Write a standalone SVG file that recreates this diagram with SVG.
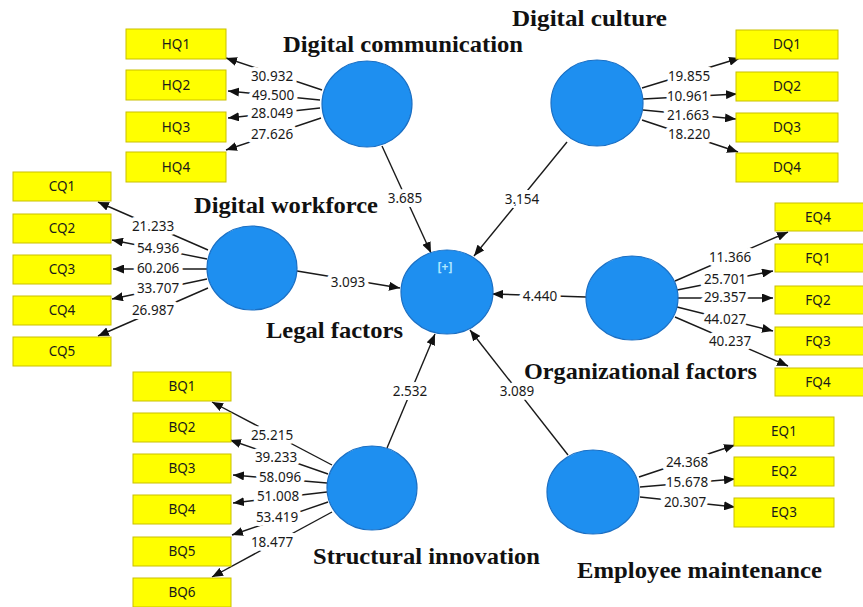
<svg xmlns="http://www.w3.org/2000/svg" width="863" height="607" viewBox="0 0 863 607">
<style>
.bg{fill:#ffffff}
.lv{fill:#1e8ff0;stroke:#1a6fc4;stroke-width:1.2}
.box{fill:#ffff00;stroke:#c9c000;stroke-width:1}
.bt{font-family:"Noto Sans","Open Sans",sans-serif;font-size:13.5px;fill:#1a1a1a;text-anchor:middle}
.ttl{font-family:"Liberation Serif","Times New Roman",serif;font-weight:bold;font-size:23px;fill:#111}
.cn line{stroke:#1a1a1a;stroke-width:1.4;marker-end:url(#ah)}
.lb{font-family:"Noto Sans","Open Sans",sans-serif;font-size:13.5px;fill:#1a1a1a;text-anchor:middle;stroke:#ffffff;stroke-width:8;paint-order:stroke;stroke-linejoin:round}
.plus{font-family:"Noto Sans",sans-serif;font-size:12px;font-weight:bold;fill:#b0e8ff;text-anchor:middle}
</style>
<defs>
<marker id="ah" markerUnits="userSpaceOnUse" markerWidth="11" markerHeight="9" refX="11" refY="4.5" orient="auto">
<path d="M0,0 L11,4.5 L0,9 z" fill="#111"/>
</marker>
</defs>
<rect class="bg" x="0" y="0" width="863" height="607"/>

<g id="connectors" class="cn">
<line x1="382" y1="146" x2="431" y2="253"/>
<line x1="567" y1="142" x2="474" y2="256"/>
<line x1="297" y1="271" x2="400" y2="288"/>
<line x1="586" y1="297" x2="492" y2="294"/>
<line x1="387" y1="448" x2="435" y2="334"/>
<line x1="568" y1="455" x2="470" y2="330"/>
<line x1="322" y1="90" x2="226" y2="58"/>
<line x1="320" y1="100" x2="228" y2="91"/>
<line x1="320" y1="108" x2="228" y2="118"/>
<line x1="321" y1="118" x2="226" y2="150"/>
<line x1="208" y1="250" x2="98" y2="202"/>
<line x1="207" y1="259" x2="112" y2="240"/>
<line x1="207" y1="269" x2="113" y2="269"/>
<line x1="207" y1="279" x2="112" y2="299"/>
<line x1="208" y1="288" x2="98" y2="336"/>
<line x1="332" y1="465" x2="212" y2="402"/>
<line x1="328" y1="474" x2="230" y2="440"/>
<line x1="327" y1="483" x2="233" y2="475"/>
<line x1="327" y1="492" x2="233" y2="503"/>
<line x1="328" y1="502" x2="232" y2="535"/>
<line x1="332" y1="512" x2="212" y2="577"/>
<line x1="642" y1="88" x2="740" y2="58"/>
<line x1="643" y1="99" x2="737" y2="94"/>
<line x1="643" y1="110" x2="736" y2="119"/>
<line x1="642" y1="120" x2="738" y2="152"/>
<line x1="675" y1="281" x2="788" y2="232"/>
<line x1="677" y1="290" x2="773" y2="271"/>
<line x1="677" y1="298" x2="773" y2="298"/>
<line x1="677" y1="307" x2="773" y2="331"/>
<line x1="675" y1="317" x2="788" y2="366"/>
<line x1="639" y1="477" x2="735" y2="445"/>
<line x1="640" y1="487" x2="735" y2="479"/>
<line x1="640" y1="497" x2="735" y2="507"/>
</g>

<g id="edge-labels">
<text class="lb" x="405" y="203">3.685</text>
<text class="lb" x="522" y="204">3.154</text>
<text class="lb" x="348" y="287">3.093</text>
<text class="lb" x="540" y="301">4.440</text>
<text class="lb" x="410" y="396">2.532</text>
<text class="lb" x="517" y="396">3.089</text>

<text class="lb" x="272" y="81">30.932</text>
<text class="lb" x="273" y="100">49.500</text>
<text class="lb" x="272" y="118">28.049</text>
<text class="lb" x="272" y="139">27.626</text>

<text class="lb" x="153" y="231">21.233</text>
<text class="lb" x="158" y="253">54.936</text>
<text class="lb" x="158" y="273">60.206</text>
<text class="lb" x="158" y="293">33.707</text>
<text class="lb" x="153" y="315">26.987</text>

<text class="lb" x="272" y="440">25.215</text>
<text class="lb" x="276" y="462">39.233</text>
<text class="lb" x="280" y="482">58.096</text>
<text class="lb" x="278" y="501">51.008</text>
<text class="lb" x="277" y="522">53.419</text>
<text class="lb" x="272" y="547">18.477</text>

<text class="lb" x="689" y="81">19.855</text>
<text class="lb" x="688" y="101">10.961</text>
<text class="lb" x="688" y="120">21.663</text>
<text class="lb" x="689" y="139">18.220</text>

<text class="lb" x="730" y="262">11.366</text>
<text class="lb" x="725" y="284">25.701</text>
<text class="lb" x="725" y="302">29.357</text>
<text class="lb" x="725" y="324">44.027</text>
<text class="lb" x="730" y="346">40.237</text>

<text class="lb" x="687" y="467">24.368</text>
<text class="lb" x="687" y="487">15.678</text>
<text class="lb" x="685" y="507">20.307</text>
</g>

<g id="digital-communication">
<ellipse class="lv" cx="367" cy="104" rx="45" ry="43"/>
<text class="ttl" x="283" y="52" textLength="240" lengthAdjust="spacingAndGlyphs">Digital communication</text>
</g>
<g id="digital-culture">
<ellipse class="lv" cx="597" cy="103" rx="46" ry="43"/>
<text class="ttl" x="512" y="26" textLength="155" lengthAdjust="spacingAndGlyphs">Digital culture</text>
</g>
<g id="digital-workforce">
<ellipse class="lv" cx="252" cy="268" rx="45" ry="42"/>
<text class="ttl" x="194" y="213" textLength="184" lengthAdjust="spacingAndGlyphs">Digital workforce</text>
</g>
<g id="legal-factors">
<ellipse class="lv" cx="447" cy="292" rx="46" ry="42"/>
<text class="plus" x="445" y="271">[+]</text>
<text class="ttl" x="266" y="338" textLength="137" lengthAdjust="spacingAndGlyphs">Legal factors</text>
</g>
<g id="organizational-factors">
<ellipse class="lv" cx="632" cy="298" rx="46" ry="42"/>
<text class="ttl" x="524" y="379" textLength="233" lengthAdjust="spacingAndGlyphs">Organizational factors</text>
</g>
<g id="structural-innovation">
<ellipse class="lv" cx="372" cy="488" rx="45" ry="42"/>
<text class="ttl" x="313" y="564" textLength="227" lengthAdjust="spacingAndGlyphs">Structural innovation</text>
</g>
<g id="employee-maintenance">
<ellipse class="lv" cx="593" cy="492" rx="46" ry="42"/>
<text class="ttl" x="577" y="578" textLength="245" lengthAdjust="spacingAndGlyphs">Employee maintenance</text>
</g>

<g id="HQ1"><rect class="box" x="126" y="29" width="100" height="30"/><text class="bt" x="176" y="49">HQ1</text></g>
<g id="HQ2"><rect class="box" x="126" y="70" width="100" height="30"/><text class="bt" x="176" y="90">HQ2</text></g>
<g id="HQ3"><rect class="box" x="126" y="112" width="100" height="30"/><text class="bt" x="176" y="132">HQ3</text></g>
<g id="HQ4"><rect class="box" x="126" y="152" width="100" height="30"/><text class="bt" x="176" y="172">HQ4</text></g>

<g id="CQ1"><rect class="box" x="13" y="172" width="98" height="29"/><text class="bt" x="62" y="191">CQ1</text></g>
<g id="CQ2"><rect class="box" x="13" y="214" width="98" height="29"/><text class="bt" x="62" y="233">CQ2</text></g>
<g id="CQ3"><rect class="box" x="13" y="255" width="98" height="29"/><text class="bt" x="62" y="274">CQ3</text></g>
<g id="CQ4"><rect class="box" x="13" y="296" width="98" height="29"/><text class="bt" x="62" y="315">CQ4</text></g>
<g id="CQ5"><rect class="box" x="13" y="337" width="98" height="29"/><text class="bt" x="62" y="356">CQ5</text></g>

<g id="BQ1"><rect class="box" x="133" y="372" width="98" height="29"/><text class="bt" x="182" y="391">BQ1</text></g>
<g id="BQ2"><rect class="box" x="133" y="413" width="98" height="29"/><text class="bt" x="182" y="432">BQ2</text></g>
<g id="BQ3"><rect class="box" x="133" y="454" width="98" height="29"/><text class="bt" x="182" y="473">BQ3</text></g>
<g id="BQ4"><rect class="box" x="133" y="495" width="98" height="29"/><text class="bt" x="182" y="514">BQ4</text></g>
<g id="BQ5"><rect class="box" x="133" y="537" width="98" height="29"/><text class="bt" x="182" y="556">BQ5</text></g>
<g id="BQ6"><rect class="box" x="133" y="578" width="98" height="29"/><text class="bt" x="182" y="597">BQ6</text></g>

<g id="DQ1"><rect class="box" x="736" y="30" width="102" height="29"/><text class="bt" x="787" y="49">DQ1</text></g>
<g id="DQ2"><rect class="box" x="736" y="72" width="102" height="29"/><text class="bt" x="787" y="91">DQ2</text></g>
<g id="DQ3"><rect class="box" x="736" y="113" width="102" height="29"/><text class="bt" x="787" y="132">DQ3</text></g>
<g id="DQ4"><rect class="box" x="736" y="153" width="102" height="29"/><text class="bt" x="787" y="172">DQ4</text></g>

<g id="EQ4"><rect class="box" x="775" y="203" width="92" height="28"/><text class="bt" x="818" y="222">EQ4</text></g>
<g id="FQ1"><rect class="box" x="775" y="244" width="92" height="28"/><text class="bt" x="818" y="263">FQ1</text></g>
<g id="FQ2"><rect class="box" x="775" y="286" width="92" height="28"/><text class="bt" x="818" y="305">FQ2</text></g>
<g id="FQ3"><rect class="box" x="775" y="327" width="92" height="28"/><text class="bt" x="818" y="346">FQ3</text></g>
<g id="FQ4"><rect class="box" x="775" y="368" width="92" height="28"/><text class="bt" x="818" y="387">FQ4</text></g>

<g id="EQ1"><rect class="box" x="734" y="417" width="100" height="29"/><text class="bt" x="784" y="436">EQ1</text></g>
<g id="EQ2"><rect class="box" x="734" y="457" width="100" height="29"/><text class="bt" x="784" y="476">EQ2</text></g>
<g id="EQ3"><rect class="box" x="734" y="498" width="100" height="29"/><text class="bt" x="784" y="517">EQ3</text></g>
</svg>
